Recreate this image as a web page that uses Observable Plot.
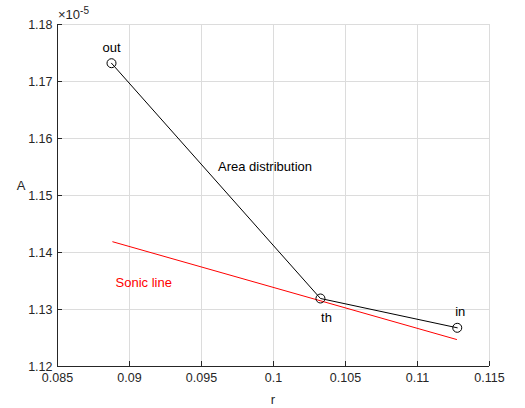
<!DOCTYPE html>
<html><head><meta charset="utf-8">
<script src="https://cdn.jsdelivr.net/npm/d3@7"></script>
<script src="https://cdn.jsdelivr.net/npm/@observablehq/plot@0.6"></script>
<style>body{margin:0;background:#fff;font-family:"Liberation Sans",Arial,sans-serif}</style>
</head><body><div id="chart"></div>
<script>
// Area distribution (A in units of 1e-5)
const stations = ["out", "th", "in"];
const rValues = [0.08875, 0.10326, 0.11276];
const aValues = [1.17321, 1.13193, 1.12679];
// Sonic line endpoints
const sonicR = [0.08884, 0.11271];
const sonicA = [1.14188, 1.12474];
const xTicks = [0.085, 0.09, 0.095, 0.1, 0.105, 0.11, 0.115];
const yTicks = [1.12, 1.13, 1.14, 1.15, 1.16, 1.17, 1.18];

const area = stations.map((s, i) => ({s, r: rValues[i], a: aValues[i]}));
const sonic = sonicR.map((r, i) => ({r, a: sonicA[i]}));
const ink = "#262626";
const font = "'Liberation Sans', Arial, sans-serif";

const plot = Plot.plot({
  width: 525, height: 408,
  marginLeft: 57, marginRight: 36, marginTop: 24, marginBottom: 42,
  style: {fontFamily: font, fontSize: "12px", color: ink, background: "#fff"},
  x: {domain: [0.085, 0.115], ticks: xTicks, tickFormat: d => String(+d.toFixed(3))},
  y: {domain: [1.12, 1.18], ticks: yTicks, tickFormat: d => d.toFixed(2)},
  marks: [
    Plot.gridX(xTicks, {stroke: "#dcdcdc", strokeOpacity: 1}),
    Plot.gridY(yTicks, {stroke: "#dcdcdc", strokeOpacity: 1}),
    Plot.ruleX([0.085], {stroke: ink}),
    Plot.ruleY([1.12], {stroke: ink}),
    Plot.axisX(xTicks, {tickSize: -5, tickPadding: 12, stroke: ink, fill: ink, fontSize: 12.5, label: null, tickFormat: d => String(+d.toFixed(3))}),
    Plot.axisY(yTicks, {tickSize: -5, tickPadding: 10, stroke: ink, fill: ink, fontSize: 12.5, label: null, tickFormat: d => d.toFixed(2)}),
    Plot.line(sonic, {x: "r", y: "a", stroke: "#ff0000", strokeWidth: 1}),
    Plot.line(area, {x: "r", y: "a", stroke: "#000", strokeWidth: 1}),
    Plot.dot(area, {x: "r", y: "a", r: 4.5, stroke: "#000", fill: "none", strokeWidth: 1}),
    Plot.text(area.filter(d => d.s === "out"), {x: "r", y: "a", text: "s", dy: -15, fill: "#000", fontSize: 13}),
    Plot.text(area.filter(d => d.s === "th"), {x: "r", y: "a", text: "s", dy: 19, dx: 6, fill: "#000", fontSize: 13}),
    Plot.text(area.filter(d => d.s === "in"), {x: "r", y: "a", text: "s", dy: -16, dx: 3, fill: "#000", fontSize: 13}),
    Plot.text(["Area distribution"], {x: 0.09941, y: 1.15509, text: d => d, fill: "#000", fontSize: 13}),
    Plot.text(["Sonic line"], {x: 0.08903, y: 1.13474, text: d => d, fill: "#ff0000", fontSize: 13, textAnchor: "start"})
  ]
});
document.getElementById("chart").appendChild(plot);

const svg = d3.select(plot);
const sx = plot.scale("x"), sy = plot.scale("y");
const x0 = sx.apply(0.085), y0 = sy.apply(1.18);
const mult = svg.append("text").attr("x", x0 + 1).attr("y", y0 - 5).attr("text-anchor", "start")
  .attr("fill", ink).attr("font-size", 13).attr("font-family", font);
mult.append("tspan").text("\u00d710");
mult.append("tspan").attr("dy", -5).attr("font-size", 10).text("-5");
svg.append("text").attr("x", 273).attr("y", 404).attr("text-anchor", "middle")
  .attr("fill", ink).attr("font-size", 13).attr("font-family", font).text("r");
svg.append("text").attr("x", 21).attr("y", 190).attr("text-anchor", "middle")
  .attr("fill", ink).attr("font-size", 13).attr("font-family", font).text("A");
</script></body></html>
